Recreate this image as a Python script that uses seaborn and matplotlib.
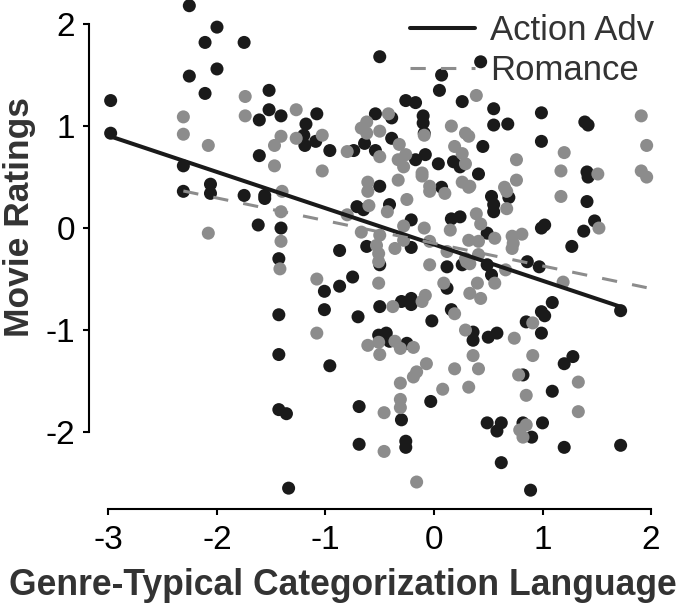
import numpy as np
import pandas as pd
import matplotlib
matplotlib.use("Agg")
from matplotlib import pyplot as plt
import seaborn as sns

# points (genre-typical language vs rating)
action_x = [-2.255, -2.00, -2.11, -1.75, -2.00, -2.255, -2.11, -1.52, -2.98, -1.52,
            -1.61, -1.41, -2.98, -1.61, -2.31, -2.31, -2.06, -2.06, -1.75, -1.56,
            -1.56, -1.62, -1.41, -1.43, -1.43, -1.43, -1.43, -1.36, -1.34, -0.50,
            0.07, 0.05, -0.26, -0.17, 0.26, -1.08, -1.18, -1.20, -1.19, -1.09,
            -0.96, -0.74, -0.54, -0.39, -0.64, -0.39, -0.54, -0.10, -0.10, -0.09,
            -0.08, -0.17, 0.04, 0.18, 0.24, 0.55, 0.55, 0.68, 0.99, 1.39,
            1.42, 0.45, 0.99, 0.41, 1.41, 1.42, 0.53, 0.55, 0.55, 0.69,
            1.41, 1.02, 0.99, 1.48, 1.38, 0.49, 1.27, 0.86, 0.97, 0.49,
            0.53, 1.09, 0.99, 1.02, 1.72, 0.85, 0.99, 0.36, 0.50, 0.58,
            0.36, 0.82, 1.20, 1.28, 1.09, 0.49, 0.62, 0.58, 0.82, 0.90,
            1.00, 1.20, 1.72, 0.62, 0.89, -0.96, -0.51, -0.44, -0.41, -0.25,
            -0.03, -0.69, -0.30, -0.69, -0.26, -0.26, -0.50, 0.07, -0.71, -0.65,
            -0.41, -0.21, 0.16, 0.24, -0.50, -0.62, -0.21, -0.87, 0.12, 0.26,
            -0.75, -0.87, -1.01, 0.12, -1.01, -0.70, -0.50, -0.30, -0.21, -0.21,
            0.16, -0.02, 0.43]
action_y = [2.18, 1.97, 1.82, 1.82, 1.56, 1.49, 1.32, 1.35, 1.25, 1.16,
            1.06, 1.10, 0.93, 0.71, 0.61, 0.36, 0.43, 0.34, 0.32, 0.32,
            0.29, 0.03, 0.00, -0.30, -0.85, -1.24, -1.78, -1.82, -2.55, 1.68,
            1.50, 1.35, 1.25, 1.23, 1.24, 1.12, 1.02, 0.91, 0.81, 0.85,
            0.76, 0.76, 1.12, 1.08, 0.83, 0.88, 0.76, 1.10, 1.03, 0.93,
            0.72, 0.67, 0.63, 0.65, 0.60, 1.17, 1.01, 1.02, 1.13, 1.04,
            1.01, 0.80, 0.85, 0.53, 0.55, 0.50, 0.31, 0.23, 0.16, 0.30,
            0.26, 0.03, 0.00, 0.07, -0.03, -0.05, -0.18, -0.33, -0.38, -0.36,
            -0.46, -0.73, -0.82, -0.86, -0.81, -0.92, -1.03, -1.02, -1.07, -1.03,
            -1.10, -1.44, -1.33, -1.26, -1.60, -1.91, -1.91, -1.99, -1.91, -2.05,
            -1.91, -2.15, -2.13, -2.30, -2.57, -1.35, -1.05, -1.03, -1.11, -1.13,
            -1.70, -1.75, -1.88, -2.12, -2.09, -2.15, 0.41, 0.40, 0.21, 0.18,
            0.23, 0.08, 0.09, 0.11, -0.36, -0.18, -0.19, -0.22, -0.38, -0.36,
            -0.48, -0.57, -0.62, -0.59, -0.80, -0.87, -0.77, -0.72, -0.69, -0.75,
            -0.80, -0.91, 1.63]

romance_x = [-1.74, -2.31, -1.74, -1.41, -2.31, -2.08, -1.47, -1.47, -1.40, -1.41,
             -2.08, -1.41, -1.42, 0.39, -1.27, -1.27, -1.03, -0.80, -0.42, -0.62,
             -0.67, -0.50, -0.62, -0.32, -0.50, -0.09, 0.16, 0.29, 0.19, 0.26,
             -0.26, -0.33, -0.28, 0.29, -1.03, -0.11, 1.91, 1.96, 0.32, 1.20,
             0.76, 1.17, 1.51, 1.91, 1.96, 0.76, 0.65, 0.67, 0.32, 0.67,
             1.17, 0.39, 0.43, 1.52, 0.56, 0.72, 0.81, 0.73, 0.72, 0.32,
             0.41, 0.41, 0.30, 0.33, 0.66, 0.56, 1.19, 0.40, 0.33, 0.43,
             0.91, 0.74, 0.29, 0.36, 0.41, 0.32, 0.91, 0.78, 1.33, 0.85,
             1.33, 0.79, 0.85, 0.82, -1.08, -0.61, -0.51, -0.50, -0.36, -0.31,
             -0.19, -0.07, -0.16, -0.19, 0.19, -0.31, -0.31, -0.31, 0.08, -0.46,
             -0.46, -0.16, -0.61, -0.61, -0.33, -0.11, -0.04, -0.04, 0.10, 0.26,
             0.33, -0.25, -0.60, -0.43, -0.80, -0.28, -0.09, 0.15, -0.67, -0.50,
             -0.53, -0.51, -0.51, -0.36, -0.28, -0.04, 0.12, -0.04, 0.29, -1.08,
             -0.51, 0.09, -0.38, -0.08, -0.11, 0.19]
romance_y = [1.29, 1.09, 1.10, 0.90, 0.92, 0.81, 0.81, 0.61, 0.36, 0.16,
             -0.05, -0.13, -0.40, 1.30, 1.16, 0.88, 0.91, 0.75, 1.12, 1.04,
             0.98, 0.95, 0.93, 0.82, 0.70, 0.91, 1.00, 0.93, 0.80, 0.73,
             0.72, 0.67, 0.60, 0.63, 0.56, 0.54, 1.10, 0.81, 0.90, 0.74,
             0.67, 0.56, 0.53, 0.56, 0.50, 0.47, 0.40, 0.36, 0.40, 0.19,
             0.31, 0.14, 0.04, 0.00, -0.10, -0.08, -0.06, -0.15, -0.20, -0.12,
             -0.13, -0.26, -0.33, -0.35, -0.41, -0.54, -0.53, -0.54, -0.64, -0.69,
             -0.93, -1.08, -1.00, -1.25, -1.38, -1.56, -1.25, -1.44, -1.51, -1.64,
             -1.80, -1.98, -1.93, -2.05, -1.03, -1.15, -1.12, -1.24, -1.11, -1.18,
             -1.17, -1.33, -1.41, -1.46, -1.38, -1.52, -1.68, -1.76, -1.58, -1.81,
             -2.19, -2.49, 0.45, 0.36, 0.47, 0.51, 0.41, 0.36, 0.34, 0.45,
             0.41, 0.28, 0.22, 0.16, 0.13, 0.02, 0.00, -0.02, -0.04, -0.07,
             -0.17, -0.25, -0.33, -0.20, -0.12, -0.13, -0.23, -0.36, -0.30, -0.50,
             -0.54, -0.54, -0.77, -0.66, -0.72, -0.84]

genres = ["Action Adv", "Romance"]
colors = {"Action Adv": "#1a1a1a", "Romance": "#8c8c8c"}

df = pd.concat([
    pd.DataFrame({"lang": action_x, "rating": action_y, "genre": genres[0]}),
    pd.DataFrame({"lang": romance_x, "rating": romance_y, "genre": genres[1]}),
], ignore_index=True)

sns.set_style("ticks")
plt.rcParams["font.family"] = ["Liberation Sans", "DejaVu Sans"]
plt.rcParams["axes.unicode_minus"] = False

fig = plt.figure(figsize=(6.85, 6.07), dpi=100)
ax = fig.add_axes([0.1457, 0.179, 0.8126, 0.821])

sns.scatterplot(data=df, x="lang", y="rating", hue="genre", hue_order=genres,
                palette=colors, s=88, linewidth=0, legend=False, ax=ax)

line_styles = {"Action Adv": dict(lw=2.9, ls="-"),
               "Romance": dict(lw=2.2, ls=(0, (5, 5)))}
handles = []
for g in genres:
    sub = df[df.genre == g]
    sns.regplot(data=sub, x="lang", y="rating", scatter=False, ci=None,
                truncate=True, color=colors[g],
                line_kws=line_styles[g], ax=ax)
    handles.append(ax.lines[-1])

ax.set_xlim(-3.08, 2.05)
ax.set_ylim(-2.65, 2.236)
ax.set_xticks([-3, -2, -1, 0, 1, 2])
ax.set_yticks([-2, -1, 0, 1, 2])
ax.tick_params(labelsize=24, width=1.5, length=4, color="black", labelcolor="black")
ax.tick_params(axis="x", pad=7)
ax.tick_params(axis="y", pad=6)
for s in ["left", "bottom"]:
    ax.spines[s].set_linewidth(1.5)
    ax.spines[s].set_color("black")
sns.despine(ax=ax, offset={"left": 8, "bottom": 8}, trim=True)

ax.set_xlabel("Genre-Typical Categorization Language", fontsize=25.6,
              fontweight="bold", color="#333333")
ax.set_ylabel("Movie Ratings", fontsize=25.5, fontweight="bold", color="#333333")
ax.xaxis.set_label_coords(0.436, -0.14)
ax.yaxis.set_label_coords(-0.115, 0.565)

ax.legend(handles, genres, loc="upper right", bbox_to_anchor=(1.021, 1.0),
          frameon=False, fontsize=25, handlelength=1.87, handletextpad=0.43,
          labelspacing=0.2, borderaxespad=0, labelcolor="#333333")

fig.savefig("out.png", dpi=100)
